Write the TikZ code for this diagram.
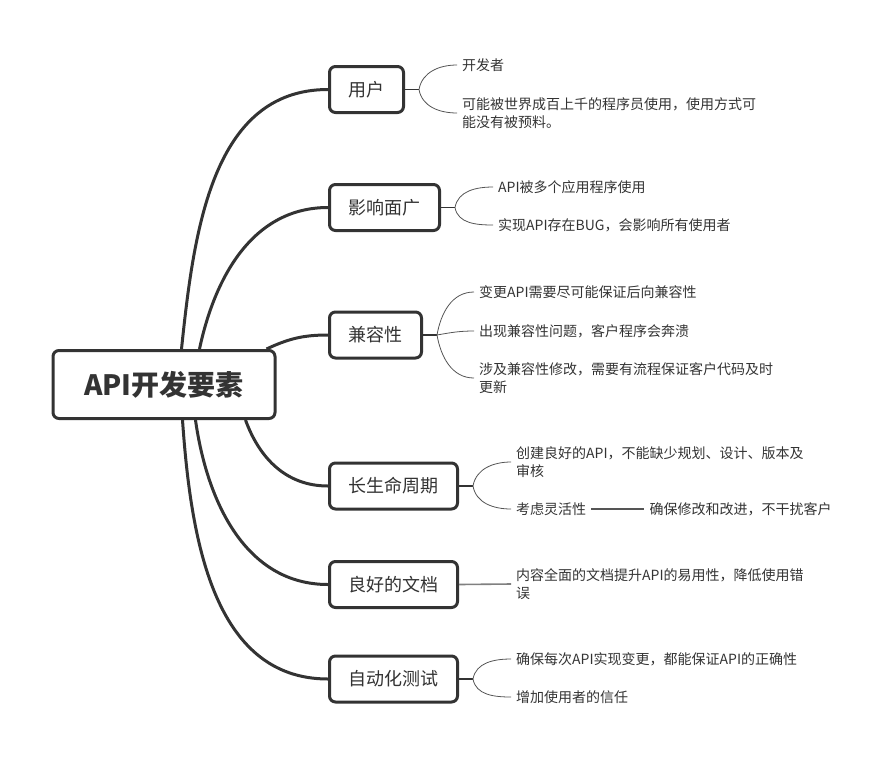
\documentclass[tikz,border=0pt]{standalone}
\usepackage{fontspec}
\setmainfont{Noto Sans CJK SC}
\usetikzlibrary{positioning}
\definecolor{ink}{HTML}{333333}
\definecolor{twiggray}{HTML}{555555}

\begin{document}
\begin{tikzpicture}[x=1pt,y=-1pt,
 root/.style={draw=ink,line width=3pt,rounded corners=6pt,fill=white,minimum width=222pt,minimum height=68pt,font=\fontsize{28}{30}\selectfont\bfseries,text=ink},
 topic/.style={draw=ink,line width=3pt,rounded corners=6pt,fill=white,anchor=west,minimum height=46pt,inner xsep=19pt,font=\fontsize{18}{20}\selectfont,text=ink},
 leaf/.style={anchor=west,inner xsep=5pt,inner ysep=1pt,align=left,font=\fontsize{14}{18}\selectfont,text=ink},
 trunk/.style={draw=ink,line width=3pt},
 stub/.style={draw=ink,line width=1.8pt},
 twig/.style={draw=twiggray,line width=0.8pt}]
 \useasboundingbox (0,0) rectangle (888,763);
 \node[root] (root) at (164,384.5) {API开发要素};
 \node[topic] (u) at (328,89.5) {用户};
 \node[topic] (i) at (328,207.5) {影响面广};
 \node[topic] (c) at (328,335) {兼容性};
 \node[topic] (l) at (328,486) {长生命周期};
 \node[topic] (d) at (328,584.5) {良好的文档};
 \node[topic] (a) at (328,679) {自动化测试};
 % leaves
 \node[leaf] (u1) at (457,65) {开发者};
 \node[leaf] (u2) at (457,113) {可能被世界成百上千的程序员使用，使用方式可\\能没有被预料。};
 \node[leaf] (i1) at (493,187) {API被多个应用程序使用};
 \node[leaf] (i2) at (493,225) {实现API存在BUG，会影响所有使用者};
 \node[leaf] (c1) at (474,292) {变更API需要尽可能保证后向兼容性};
 \node[leaf] (c2) at (474,331) {出现兼容性问题，客户程序会奔溃};
 \node[leaf] (c3) at (474,378) {涉及兼容性修改，需要有流程保证客户代码及时\\更新};
 \node[leaf] (l1) at (511,462) {创建良好的API，不能缺少规划、设计、版本及\\审核};
 \node[leaf] (l2) at (511,509) {考虑灵活性};
 \node[leaf,right=53pt of l2] (l3) {确保修改和改进，不干扰客户};
 \node[leaf] (d1) at (511,584) {内容全面的文档提升API的易用性，降低使用错\\误};
 \node[leaf] (a1) at (511,659) {确保每次API实现变更，都能保证API的正确性};
 \node[leaf] (a2) at (511,697) {增加使用者的信任};
 % trunks
 \draw[trunk] ([xshift=130pt]root.north west) to[out=84,in=180] (u.west);
 \draw[trunk] ([xshift=148pt]root.north west) to[out=78,in=180] (i.west);
 \draw[trunk] ([xshift=215pt]root.north west) to[out=25,in=180] (c.west);
 \draw[trunk] ([xshift=194pt]root.south west) to[out=-70,in=180] (l.west);
 \draw[trunk] ([xshift=144pt]root.south west) to[out=-82,in=180] (d.west);
 \draw[trunk] ([xshift=131pt]root.south west) to[out=-86,in=180] (a.west);
 % forks
 \draw[stub] (u.east) -- ++(14,0) coordinate (u0);
 \draw[stub] (i.east) -- ++(14,0) coordinate (i0);
 \draw[stub] (c.east) -- ++(14,0) coordinate (c0);
 \draw[stub] (l.east) -- ++(14,0) coordinate (l0);
 \draw[stub] (a.east) -- ++(14,0) coordinate (a0);
 \foreach \p/\q in {u/u1,i/i1,c/c1,l/l1,a/a1} \draw[twig] (\p0) to[out=80,in=180] (\q.west);
 \foreach \p/\q in {u/u2,i/i2,c/c3,l/l2,a/a2} \draw[twig] (\p0) to[out=-80,in=180] (\q.west);
 \draw[twig] (c0) to[out=10,in=180] (c2.west);
 \draw[twig,line width=1.2pt] (l2) -- (l3);
 \draw[twig,line width=1.6pt,draw=gray] (d.east) -- (d1.west);
\end{tikzpicture}
\end{document}
